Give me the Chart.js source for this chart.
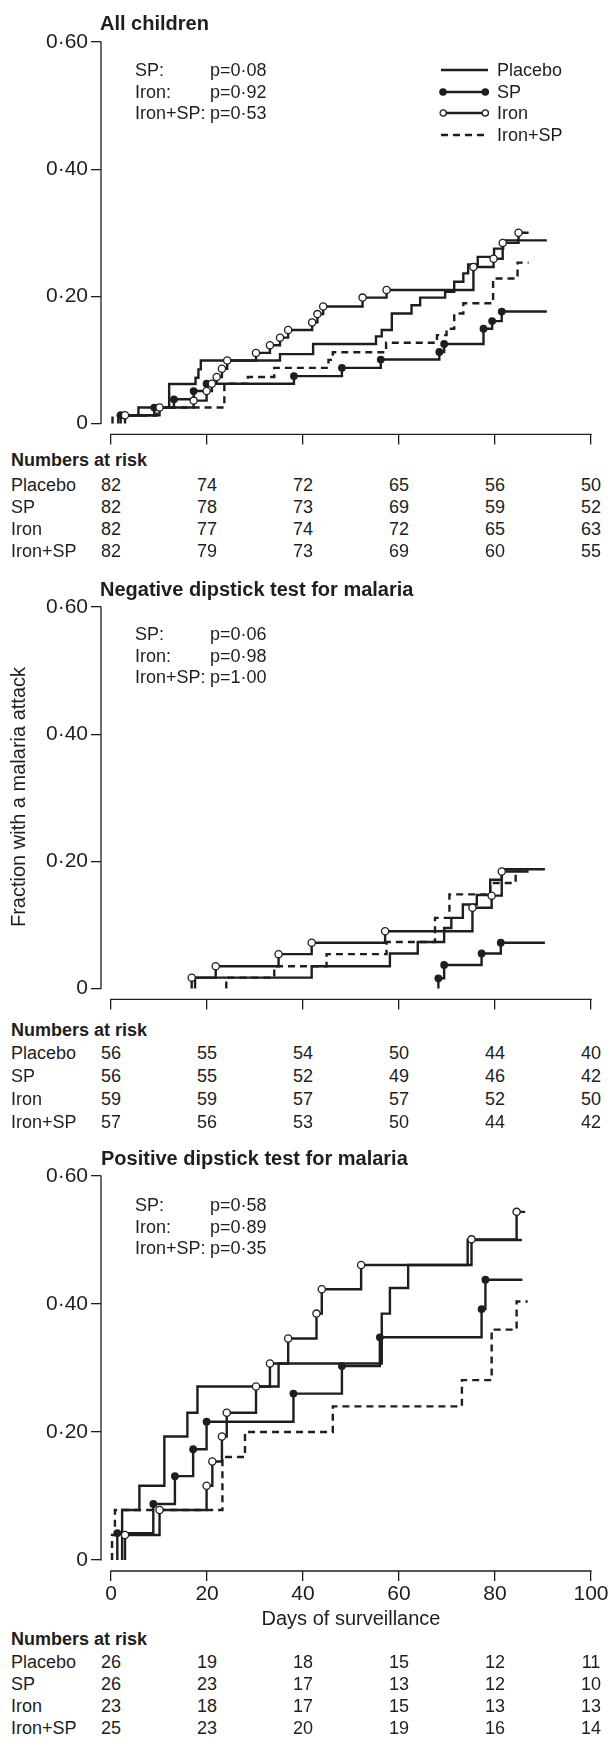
<!DOCTYPE html>
<html>
<head>
<meta charset="utf-8">
<title>Fraction with a malaria attack</title>
<script src="https://cdn.jsdelivr.net/npm/chart.js@4.4.0/dist/chart.umd.min.js"></script>
<style>
  body { margin: 0; background: #fff; }
  #page { position: relative; width: 611px; height: 1737px; overflow: hidden;
          font-family: "Liberation Sans", Arial, sans-serif; color: #1e1e1e; }
  canvas { position: absolute; left: 0; }
  .t { position: absolute; white-space: nowrap; line-height: 1; font-size: 18px; transform: translateY(-50%); }
  .c { transform: translate(-50%, -50%); }
  .h { font-weight: bold; font-size: 20px; }
  .b { font-weight: bold; }
  .lg { position: absolute; left: 439px; }
  #ytitle { position: absolute; left: 18px; top: 797px; font-size: 20px; white-space: nowrap; line-height: 1;
            transform: translate(-50%, -50%) rotate(-90deg); }
</style>
</head>
<body>
<div id="page">
  <canvas id="c1" width="611" height="450" style="top:0"></canvas>
  <canvas id="c2" width="611" height="455" style="top:560px"></canvas>
  <canvas id="c3" width="611" height="480" style="top:1130px"></canvas>

  <div class="t h" style="left:100px;top:23px">All children</div>
  <div class="t" style="left:135px;top:70px">SP:</div><div class="t" style="left:210px;top:70px">p=0·08</div>
  <div class="t" style="left:135px;top:91.5px">Iron:</div><div class="t" style="left:210px;top:91.5px">p=0·92</div>
  <div class="t" style="left:135px;top:113px">Iron+SP:</div><div class="t" style="left:210px;top:113px">p=0·53</div>

  <svg class="lg" style="top:64px" width="54" height="12"><line x1="2" y1="6" x2="49" y2="6" stroke="#1e1e1e" stroke-width="2.4"/></svg>
  <svg class="lg" style="top:85.5px" width="54" height="12"><line x1="3" y1="6" x2="47" y2="6" stroke="#1e1e1e" stroke-width="2.4"/><circle cx="4" cy="6" r="3.8" fill="#1e1e1e"/><circle cx="46.3" cy="6" r="3.8" fill="#1e1e1e"/></svg>
  <svg class="lg" style="top:107px" width="54" height="12"><line x1="3" y1="6" x2="47" y2="6" stroke="#1e1e1e" stroke-width="2.4"/><circle cx="4.2" cy="6" r="3.1" fill="#fff" stroke="#1e1e1e" stroke-width="1.3"/><circle cx="46.3" cy="6" r="3.1" fill="#fff" stroke="#1e1e1e" stroke-width="1.3"/></svg>
  <svg class="lg" style="top:128.5px" width="54" height="12"><line x1="2" y1="6" x2="49" y2="6" stroke="#1e1e1e" stroke-width="2.4" stroke-dasharray="7 5"/></svg>
  <div class="t" style="left:497px;top:70px">Placebo</div>
  <div class="t" style="left:497px;top:91.5px">SP</div>
  <div class="t" style="left:497px;top:113px">Iron</div>
  <div class="t" style="left:497px;top:134.5px">Iron+SP</div>

  <div class="t h" style="left:100px;top:589px">Negative dipstick test for malaria</div>
  <div class="t" style="left:135px;top:634px">SP:</div><div class="t" style="left:210px;top:634px">p=0·06</div>
  <div class="t" style="left:135px;top:655.5px">Iron:</div><div class="t" style="left:210px;top:655.5px">p=0·98</div>
  <div class="t" style="left:135px;top:677px">Iron+SP:</div><div class="t" style="left:210px;top:677px">p=1·00</div>
  <div id="ytitle">Fraction with a malaria attack</div>

  <div class="t h" style="left:101px;top:1158px">Positive dipstick test for malaria</div>
  <div class="t" style="left:135px;top:1205px">SP:</div><div class="t" style="left:210px;top:1205px">p=0·58</div>
  <div class="t" style="left:135px;top:1226.5px">Iron:</div><div class="t" style="left:210px;top:1226.5px">p=0·89</div>
  <div class="t" style="left:135px;top:1248px">Iron+SP:</div><div class="t" style="left:210px;top:1248px">p=0·35</div>
  <div class="t c" style="left:351px;top:1618px;font-size:20px">Days of surveillance</div>
</div>

<script>
// axis ticks
const dayTicks = [0, 20, 40, 60, 80, 100];
const yTicks = [0, 0.2, 0.4, 0.6];
const groups = ['Placebo', 'SP', 'Iron', 'Iron+SP'];

// each curve: event days, cumulative fraction after each event, last day of follow-up
// All children
const allPlaceboDays = [1.5, 5.7, 12.1, 17.6, 18.2, 18.7, 35.2, 42.1, 55.2, 56.4, 58.5, 62.6, 64.4, 69.6, 71.5, 73.4, 74.4, 76.4, 79.8, 81.7];
const allPlaceboRisk = [0.012, 0.025, 0.062, 0.072, 0.085, 0.099, 0.109, 0.125, 0.137, 0.147, 0.173, 0.186, 0.198, 0.207, 0.223, 0.236, 0.250, 0.262, 0.275, 0.288];
const allPlaceboEnd = 90.8;
const allSPDays = [2.0, 9.0, 13.1, 17.2, 19.9, 38.1, 48.1, 56.2, 68.4, 69.4, 77.6, 79.4, 81.4];
const allSPRisk = [0.013, 0.025, 0.038, 0.051, 0.0625, 0.0745, 0.0875, 0.1005, 0.1125, 0.125, 0.149, 0.161, 0.176];
const allSPEnd = 90.8;
const allIronDays = [2.9, 10.1, 17.2, 19.9, 21.0, 22.0, 23.1, 24.2, 30.2, 33.1, 35.2, 36.9, 41.9, 43.0, 44.2, 52.4, 57.4, 75.5, 79.7, 81.6, 84.9];
const allIronRisk = [0.013, 0.025, 0.036, 0.051, 0.0625, 0.073, 0.086, 0.099, 0.111, 0.123, 0.135, 0.147, 0.159, 0.172, 0.184, 0.198, 0.210, 0.246, 0.259, 0.284, 0.300];
const allIronEnd = 87;
const allIronSPDays = [0.3, 9.5, 23.6, 28.5, 34.0, 45.3, 46.2, 57.3, 67.9, 69.9, 71.5, 73.4, 79.6, 84.7];
const allIronSPRisk = [0.0125, 0.025, 0.0625, 0.073, 0.0875, 0.100, 0.112, 0.127, 0.139, 0.149, 0.173, 0.189, 0.228, 0.253];
const allIronSPEnd = 87;

// Negative dipstick test
const negPlaceboDays = [17.5, 41.8, 58.1, 63.9, 69.4, 70.9, 73.3, 76.2, 79.0, 81.4];
const negPlaceboRisk = [0.017, 0.035, 0.055, 0.073, 0.095, 0.111, 0.132, 0.147, 0.171, 0.1875];
const negPlaceboEnd = 90.4;
const negSPDays = [68.2, 69.4, 77.2, 81.2];
const negSPRisk = [0.016, 0.037, 0.055, 0.072];
const negSPEnd = 90.4;
const negIronDays = [16.8, 21.8, 34.9, 41.8, 57.1, 75.3, 79.3, 81.4];
const negIronRisk = [0.017, 0.035, 0.054, 0.072, 0.090, 0.127, 0.146, 0.184];
const negIronEnd = 87;
const negIronSPDays = [24.0, 34.0, 44.9, 57.4, 67.5, 70.5, 79.0, 84.3];
const negIronSPRisk = [0.017, 0.035, 0.054, 0.073, 0.111, 0.148, 0.166, 0.1875];
const negIronSPEnd = 86.5;

// Positive dipstick test
const posPlaceboDays = [2.3, 5.9, 11.1, 15.9, 18.0, 34.9, 56.4, 58.1, 61.9, 74.3];
const posPlaceboRisk = [0.078, 0.116, 0.193, 0.230, 0.271, 0.307, 0.385, 0.425, 0.461, 0.500];
const posPlaceboEnd = 85.6;
const posSPDays = [1.3, 8.8, 13.3, 17.1, 19.9, 38.0, 48.1, 56.0, 77.2, 78.0];
const posSPRisk = [0.042, 0.0875, 0.131, 0.173, 0.216, 0.260, 0.303, 0.348, 0.392, 0.438];
const posSPEnd = 85.7;
const posIronDays = [2.9, 10.1, 19.9, 21.1, 23.1, 24.1, 30.2, 33.1, 36.9, 42.8, 43.9, 52.1, 75.1, 84.5];
const posIronRisk = [0.039, 0.078, 0.116, 0.154, 0.193, 0.230, 0.271, 0.307, 0.346, 0.385, 0.423, 0.461, 0.501, 0.544];
const posIronEnd = 86.3;
const posIronSPDays = [0.2, 0.8, 23.2, 27.9, 46.2, 73.1, 79.3, 84.5];
const posIronSPRisk = [0.039, 0.078, 0.161, 0.200, 0.240, 0.281, 0.360, 0.404];
const posIronSPEnd = 86.8;

// numbers at risk at dayTicks
const allAtRiskPlacebo = [82, 74, 72, 65, 56, 50];
const allAtRiskSP = [82, 78, 73, 69, 59, 52];
const allAtRiskIron = [82, 77, 74, 72, 65, 63];
const allAtRiskIronSP = [82, 79, 73, 69, 60, 55];
const negAtRiskPlacebo = [56, 55, 54, 50, 44, 40];
const negAtRiskSP = [56, 55, 52, 49, 46, 42];
const negAtRiskIron = [59, 59, 57, 57, 52, 50];
const negAtRiskIronSP = [57, 56, 53, 50, 44, 42];
const posAtRiskPlacebo = [26, 19, 18, 15, 12, 11];
const posAtRiskSP = [26, 23, 17, 13, 12, 10];
const posAtRiskIron = [23, 18, 17, 15, 13, 13];
const posAtRiskIronSP = [25, 23, 20, 19, 16, 14];

const ink = '#1e1e1e';
const fontFamily = '"Liberation Sans", Arial, sans-serif';

function km(days, risk, end) {
  var pts = [{x: days[0], y: 0}];
  days.forEach(function (d, i) { pts.push({x: d, y: risk[i]}); });
  pts.push({x: end, y: risk[risk.length - 1]});
  return pts;
}

// markers only on the event points, not on the start and end of a curve
function markerRadius(r) {
  return function (c) {
    var n = c.dataset.data.length;
    return (c.dataIndex === 0 || c.dataIndex === n - 1) ? 0 : r;
  };
}

const axisLines = {
  id: 'axisLines',
  afterDraw: function (chart) {
    var ctx = chart.ctx, x = chart.scales.x, y = chart.scales.y, area = chart.chartArea;
    ctx.save();
    ctx.strokeStyle = ink;
    ctx.lineWidth = 1.3;
    ctx.beginPath();
    ctx.moveTo(area.left, y.getPixelForValue(yTicks[0]) + 0.6);
    ctx.lineTo(area.left, y.getPixelForValue(yTicks[yTicks.length - 1]) - 0.6);
    ctx.moveTo(x.getPixelForValue(dayTicks[0]) - 0.6, area.bottom);
    ctx.lineTo(x.getPixelForValue(dayTicks[dayTicks.length - 1]) + 0.6, area.bottom);
    ctx.stroke();
    ctx.restore();
  }
};

function panel(id, curves, topPad, xHeight, showDays) {
  var line = {borderColor: ink, borderWidth: 2.4, stepped: true, fill: false, tension: 0,
              pointRadius: 0, borderCapStyle: 'butt'};
  return new Chart(document.getElementById(id), {
    type: 'line',
    data: {
      datasets: [
        Object.assign({}, line, {label: groups[2], data: km.apply(null, curves[2]), order: 0,
          pointRadius: markerRadius(3.6), pointBackgroundColor: '#fff', pointBorderColor: ink, pointBorderWidth: 1.3}),
        Object.assign({}, line, {label: groups[1], data: km.apply(null, curves[1]), order: 1,
          pointRadius: markerRadius(3.9), pointBackgroundColor: ink, pointBorderWidth: 0}),
        Object.assign({}, line, {label: groups[0], data: km.apply(null, curves[0]), order: 2}),
        Object.assign({}, line, {label: groups[3], data: km.apply(null, curves[3]), order: 3, borderDash: [7, 5]})
      ]
    },
    options: {
      responsive: false,
      animation: false,
      events: [],
      devicePixelRatio: 1,
      layout: {padding: {top: topPad, right: 20, left: 0, bottom: 0}},
      plugins: {legend: {display: false}, tooltip: {enabled: false}},
      scales: {
        x: {
          type: 'linear', min: -2.1, max: 100,
          afterBuildTicks: function (s) { s.ticks = dayTicks.map(function (v) { return {value: v}; }); },
          afterFit: function (s) { s.height = xHeight; },
          border: {display: false},
          grid: {drawOnChartArea: false, drawTicks: true, tickLength: 10, color: ink, lineWidth: 1.3},
          ticks: {display: showDays, padding: 1, color: ink, maxRotation: 0, autoSkip: false,
                  font: {family: fontFamily, size: 21}}
        },
        y: {
          min: -0.0172, max: 0.6,
          afterBuildTicks: function (s) { s.ticks = yTicks.map(function (v) { return {value: v}; }); },
          afterFit: function (s) { s.width = 101; },
          border: {display: false},
          grid: {drawOnChartArea: false, drawTicks: true, tickLength: 10, color: ink, lineWidth: 1.3},
          ticks: {padding: 3, color: ink, font: {family: fontFamily, size: 21},
                  callback: function (v) { return v === 0 ? '0' : v.toFixed(2).replace('.', '\u00b7'); }}
        }
      }
    },
    plugins: [axisLines]
  });
}

function riskTable(chart, headerTop, rowTops, rows) {
  var page = document.getElementById('page');
  var head = document.createElement('div');
  head.className = 't b';
  head.style.left = '11px';
  head.style.top = headerTop + 'px';
  head.textContent = 'Numbers at risk';
  page.appendChild(head);
  rows.forEach(function (row, i) {
    var lab = document.createElement('div');
    lab.className = 't';
    lab.style.left = '11px';
    lab.style.top = rowTops[i] + 'px';
    lab.textContent = groups[i];
    page.appendChild(lab);
    row.forEach(function (n, j) {
      var cell = document.createElement('div');
      cell.className = 't c';
      cell.style.left = chart.scales.x.getPixelForValue(dayTicks[j]) + 'px';
      cell.style.top = rowTops[i] + 'px';
      cell.textContent = n;
      page.appendChild(cell);
    });
  });
}

var chartAll = panel('c1', [
  [allPlaceboDays, allPlaceboRisk, allPlaceboEnd],
  [allSPDays, allSPRisk, allSPEnd],
  [allIronDays, allIronRisk, allIronEnd],
  [allIronSPDays, allIronSPRisk, allIronSPEnd]
], 42, 13, false);

var chartNeg = panel('c2', [
  [negPlaceboDays, negPlaceboRisk, negPlaceboEnd],
  [negSPDays, negSPRisk, negSPEnd],
  [negIronDays, negIronRisk, negIronEnd],
  [negIronSPDays, negIronSPRisk, negIronSPEnd]
], 47, 13, false);

var chartPos = panel('c3', [
  [posPlaceboDays, posPlaceboRisk, posPlaceboEnd],
  [posSPDays, posSPRisk, posSPEnd],
  [posIronDays, posIronRisk, posIronEnd],
  [posIronSPDays, posIronSPRisk, posIronSPEnd]
], 46, 39, true);

riskTable(chartAll, 460, [485, 507, 529, 551],
  [allAtRiskPlacebo, allAtRiskSP, allAtRiskIron, allAtRiskIronSP]);
riskTable(chartNeg, 1030, [1053, 1076, 1099, 1122],
  [negAtRiskPlacebo, negAtRiskSP, negAtRiskIron, negAtRiskIronSP]);
riskTable(chartPos, 1639, [1662, 1684, 1706, 1728],
  [posAtRiskPlacebo, posAtRiskSP, posAtRiskIron, posAtRiskIronSP]);
</script>
</body>
</html>
